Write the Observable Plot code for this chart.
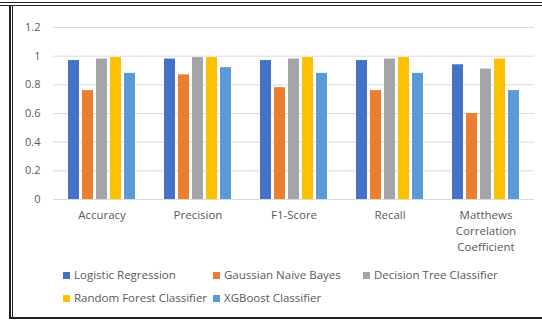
<!DOCTYPE html>
<html><head><meta charset="utf-8">
<script src="https://cdn.jsdelivr.net/npm/d3@7"></script>
<script src="https://cdn.jsdelivr.net/npm/@observablehq/plot@0.6"></script>
<style>
body{margin:0;background:#fff;}
#wrap{position:relative;width:542px;height:320px;overflow:hidden;font-family:"Open Sans",sans-serif;background:#fff;}
.layer{position:absolute;left:0;top:0;}
.bt{position:absolute;left:0;top:2px;width:542px;height:2px;border-top:1px solid #222;border-bottom:1px solid #222;}
.bl{position:absolute;left:9px;top:5px;width:1px;height:313px;border-left:2px solid #222;border-right:1px solid #222;}
.bb{position:absolute;left:9px;top:317px;width:533px;height:0;border-top:2px solid #222;}
.leg{position:absolute;font-size:11.5px;color:#595959;white-space:nowrap;line-height:14px;}
.sw{display:inline-block;width:7px;height:7px;margin-right:4px;vertical-align:0px;}
</style></head><body><div id="wrap"><div id="grid" class="layer"></div><div id="chart" class="layer"></div></div>
<script>
const metrics = ["Accuracy", "Precision", "F1-Score", "Recall", "Matthews Correlation Coefficient"];
const metricLabels = ["Accuracy", "Precision", "F1-Score", "Recall", "Matthews\nCorrelation\nCoefficient"];
const models = ["Logistic Regression", "Gaussian Naive Bayes", "Decision Tree Classifier", "Random Forest Classifier", "XGBoost Classifier"];
const colors = ["#4472C4", "#ED7D31", "#A5A5A5", "#FFC000", "#5B9BD5"];
const logisticRegression = [0.97, 0.98, 0.97, 0.97, 0.94];
const gaussianNaiveBayes = [0.76, 0.87, 0.78, 0.76, 0.60];
const decisionTree = [0.98, 0.99, 0.98, 0.98, 0.91];
const randomForest = [0.99, 0.99, 0.99, 0.99, 0.98];
const xgboost = [0.88, 0.92, 0.88, 0.88, 0.76];
const yTicks = [0, 0.2, 0.4, 0.6, 0.8, 1, 1.2];

const series = [logisticRegression, gaussianNaiveBayes, decisionTree, randomForest, xgboost];
const data = [];
metrics.forEach((m, i) => models.forEach((mod, j) => data.push({metric: m, model: mod, value: series[j][i]})));

const common = {
  width: 542, height: 262,
  marginTop: 27, marginBottom: 63, marginLeft: 53, marginRight: 8,
  style: {fontFamily: "'Open Sans', sans-serif", fontSize: "11px", color: "#595959", background: "transparent", overflow: "visible"}
};

const grid = Plot.plot({
  ...common,
  y: {domain: [0, 1.2], label: null, axis: null},
  marks: [
    Plot.ruleY(yTicks, {stroke: "#d9d9d9", strokeWidth: 1}),
    Plot.axisY({ticks: yTicks, tickSize: 0, tickPadding: 13, tickFormat: d => String(d), label: null, fill: "#595959"})
  ]
});
document.getElementById("grid").appendChild(grid);

const chart = Plot.plot({
  ...common,
  fx: {domain: metrics, paddingInner: 0.26, paddingOuter: 0.13, label: null, axis: null},
  x: {domain: models, paddingInner: 0.25, paddingOuter: 0, axis: null},
  y: {domain: [0, 1.2], label: null, axis: null},
  color: {domain: models, range: colors},
  marks: [
    Plot.barY(data, {fx: "metric", x: "model", y: "value", fill: "model"}),
    Plot.axisFx({anchor: "bottom", tickSize: 0, tickPadding: 8, label: null, fontSize: 11.5, lineHeight: 1.4, tickFormat: d => metricLabels[metrics.indexOf(d)], fill: "#595959"})
  ]
});
document.getElementById("chart").appendChild(chart);

const wrap = document.getElementById("wrap");
["bt", "bl", "bb"].forEach(c => { const d = document.createElement("div"); d.className = c; wrap.appendChild(d); });
const legPos = [[63, 268], [213, 268], [363, 268], [63, 291], [213, 291]];
models.forEach((m, i) => {
  const d = document.createElement("div");
  d.className = "leg";
  d.style.left = legPos[i][0] + "px";
  d.style.top = legPos[i][1] + "px";
  d.innerHTML = `<span class="sw" style="background:${colors[i]}"></span>${m}`;
  wrap.appendChild(d);
});
</script></body></html>
